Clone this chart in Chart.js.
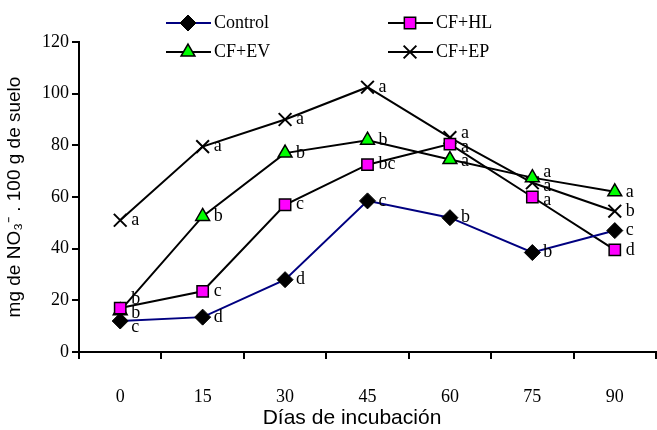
<!DOCTYPE html>
<html>
<head>
<meta charset="utf-8">
<script src="https://cdn.jsdelivr.net/npm/chart.js@4.4.0/dist/chart.umd.min.js"></script>
<style>
  html, body { margin: 0; background: #fff; overflow: hidden; }
  #wrap { width: 657px; height: 430px; position: relative; }
  canvas { display: block; }
</style>
</head>
<body>
<div id="wrap"><canvas id="myChart"></canvas></div>
<script>
// days of incubation
const days = ["0", "15", "30", "45", "60", "75", "90"];

// mg NO3- per 100 g soil
const control = [12, 13.5, 28, 58.5, 52, 38.5, 47];
const cfHL = [17, 23.5, 57, 72.5, 80.5, 60, 39.5];
const cfEV = [16, 52.5, 77, 82, 74.5, 67.5, 62];
const cfEP = [51, 79.5, 90, 102.5, 83, 65.5, 54.5];

// significance letters
const controlLetters = ["c", "d", "d", "c", "b", "b", "c"];
const hlLetters = ["b", "c", "c", "bc", "a", "a", "d"];
const evLetters = ["b", "b", "b", "b", "a", "a", "a"];
const epLetters = ["a", "a", "a", "a", "a", "a", "b"];

const xTitle = "Días de incubación";
const yTitle = "mg de NO₃⁻ . 100 g de suelo";

const serif = "'Liberation Serif', 'Times New Roman', serif";
const sans = "'Liberation Sans', Arial, sans-serif";

// letters next to the points, pushed apart a little when they collide
const letterPlugin = {
  id: "letters",
  afterDatasetsDraw(chart) {
    const ctx = chart.ctx;
    const gap = 14;
    ctx.save();
    ctx.font = "18px " + serif;
    ctx.fillStyle = "#000";
    ctx.textAlign = "left";
    ctx.textBaseline = "middle";
    for (let j = 0; j < days.length; j++) {
      let items = [];
      chart.data.datasets.forEach(function(ds, i){
        let pt = chart.getDatasetMeta(i).data[j];
        items.push({ x: pt.x, y: pt.y, t: ds.letters[j] });
      });
      items.sort(function(a, b){ return a.y - b.y; });
      for (let n = 0; n < 20; n++) {
        for (let k = 1; k < items.length; k++) {
          let d = items[k].y - items[k - 1].y;
          if (d < gap) {
            items[k].y += (gap - d) / 2;
            items[k - 1].y -= (gap - d) / 2;
          }
        }
      }
      for (let it of items) {
        ctx.fillText(it.t, it.x + 11, it.y);
      }
    }
    ctx.restore();
  }
};

// 2 x 2 legend on top + x axis title (sits a bit left of the plot centre)
const legendPlugin = {
  id: "legend2x2",
  afterDraw(chart) {
    const ctx = chart.ctx;
    const cols = [166, 388];
    const rows = [23, 52];
    ctx.save();
    chart.data.datasets.forEach(function(ds, i){
      let x = cols[i % 2];
      let y = rows[Math.floor(i / 2)];
      ctx.strokeStyle = ds.borderColor;
      ctx.lineWidth = 2;
      ctx.beginPath();
      ctx.moveTo(x, y);
      ctx.lineTo(x + 45, y);
      ctx.stroke();
      ctx.fillStyle = ds.pointBackgroundColor;
      ctx.strokeStyle = ds.pointBorderColor;
      ctx.lineWidth = ds.pointBorderWidth;
      Chart.helpers.drawPoint(ctx, {
        pointStyle: ds.pointStyle,
        radius: ds.pointRadius,
        borderWidth: ds.pointBorderWidth,
        rotation: 0
      }, x + 22, y);
      ctx.fillStyle = "#000";
      ctx.font = "18px " + serif;
      ctx.textAlign = "left";
      ctx.textBaseline = "middle";
      ctx.fillText(ds.label, x + 48, y);
    });
    ctx.font = "21px " + sans;
    ctx.textAlign = "center";
    ctx.fillText(xTitle, 352, 418);
    ctx.restore();
  }
};

const ctx = document.getElementById("myChart");

new Chart(ctx, {
  type: "line",
  data: {
    labels: days,
    datasets: [
      {
        label: "Control", data: control, letters: controlLetters,
        borderColor: "#000080", borderWidth: 2,
        pointStyle: "rectRot", pointRadius: 8,
        pointBackgroundColor: "#000", pointBorderColor: "#000", pointBorderWidth: 1
      },
      {
        label: "CF+HL", data: cfHL, letters: hlLetters,
        borderColor: "#000", borderWidth: 2,
        pointStyle: "rect", pointRadius: 8,
        pointBackgroundColor: "#FF00FF", pointBorderColor: "#000", pointBorderWidth: 1.5
      },
      {
        label: "CF+EV", data: cfEV, letters: evLetters,
        borderColor: "#000", borderWidth: 2,
        pointStyle: "triangle", pointRadius: 8,
        pointBackgroundColor: "#00FF00", pointBorderColor: "#000", pointBorderWidth: 1.5
      },
      {
        label: "CF+EP", data: cfEP, letters: epLetters,
        borderColor: "#000", borderWidth: 2,
        pointStyle: "crossRot", pointRadius: 9,
        pointBackgroundColor: "#000", pointBorderColor: "#000", pointBorderWidth: 2
      }
    ]
  },
  options: {
    responsive: true,
    maintainAspectRatio: false,
    animation: false,
    layout: { autoPadding: false, padding: { top: 42, right: 1, left: 0, bottom: 0 } },
    plugins: {
      legend: { display: false },
      tooltip: { enabled: false }
    },
    scales: {
      x: {
        offset: true,
        afterFit: function(scale){
          scale.height = 78;
          scale.paddingLeft = 0;
          scale.paddingRight = 0;
        },
        grid: { offset: true, drawOnChartArea: false, drawTicks: true, tickLength: 7, color: "#000", lineWidth: 2 },
        border: { color: "#000", width: 2 },
        ticks: { color: "#000", font: { family: serif, size: 18 }, padding: 27 }
      },
      y: {
        min: 0, max: 120,
        afterFit: function(scale){
          scale.width = 79;
          scale.paddingTop = 0;
          scale.paddingBottom = 0;
        },
        grid: { drawOnChartArea: false, drawTicks: true, tickLength: 7, color: "#000", lineWidth: 2 },
        border: { color: "#000", width: 2 },
        ticks: { stepSize: 20, color: "#000", font: { family: serif, size: 18 }, padding: 3 },
        title: { display: true, text: yTitle, color: "#000", font: { family: sans, size: 19 }, padding: { top: 3, bottom: 0 } }
      }
    }
  },
  plugins: [letterPlugin, legendPlugin]
});
</script>
</body>
</html>
